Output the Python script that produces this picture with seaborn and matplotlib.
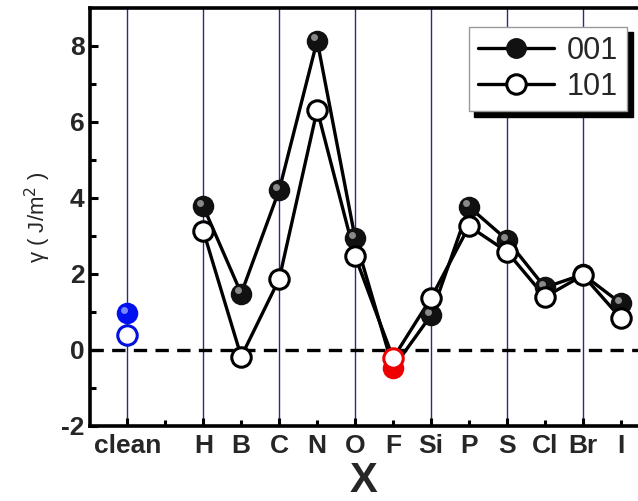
import numpy as np
import matplotlib
matplotlib.use("Agg")
import matplotlib.pyplot as plt
import matplotlib.transforms as mtransforms
from matplotlib.lines import Line2D
import pandas as pd
import seaborn as sns

# adsorbates, x positions (clean sits apart on the left)
labels = ["clean", "H", "B", "C", "N", "O", "F", "Si", "P", "S", "Cl", "Br", "I"]
xpos = [0, 2, 3, 4, 5, 6, 7, 8, 9, 10, 11, 12, 13]

# surface energy gamma (J/m^2)
g001 = [0.96, 3.77, 1.48, 4.20, 8.13, 2.93, -0.48, 0.91, 3.76, 2.89, 1.64, 1.98, 1.22]
g101 = [0.39, 3.13, -0.18, 1.86, 6.31, 2.46, -0.22, 1.36, 3.25, 2.58, 1.39, 1.96, 0.83]

df = pd.DataFrame({"x": xpos, "label": labels, "001": g001, "101": g101})
ads = df[df.label != "clean"]
clean = df[df.label == "clean"]
fl = df[df.label == "F"]

sns.set_theme(style="ticks")
plt.rcParams['font.family'] = ['Liberation Sans', 'DejaVu Sans']
plt.rcParams['axes.unicode_minus'] = False

fig = plt.figure(figsize=(6.38, 5.01), dpi=100)
ax = fig.add_axes([0.141, 0.150, 0.859, 0.835])

ms = 14
lw = 2.4
# small offset for the shiny spot on the filled balls
hl = ax.transData + mtransforms.ScaledTranslation(-2.4 / 72, 2.4 / 72, fig.dpi_scale_trans)

# lines
sns.lineplot(data=ads, x="x", y="001", ax=ax, color="black", lw=lw, sort=False, zorder=3)
sns.lineplot(data=ads, x="x", y="101", ax=ax, color="black", lw=lw, sort=False, zorder=3)

def balls(d, col, face, shine, z):
    ax.plot(d.x, d[col], "o", ms=ms, mfc=face, mec=face, mew=1.5, ls="none", zorder=z)
    ax.plot(d.x, d[col], "o", ms=5, mfc=shine, mec="none", ls="none", zorder=z + 0.1,
            transform=hl, alpha=0.8)

def rings(d, col, edge, z):
    ax.plot(d.x, d[col], "o", ms=ms, mfc="white", mec=edge, mew=2.2, ls="none", zorder=z)

balls(ads[ads.label != "F"], "001", "#111111", "#a8a8a8", 4)
rings(ads[ads.label != "F"], "101", "black", 5)

# clean in blue, F in red
balls(clean, "001", "#0010ee", "#9aa6ff", 6)
rings(clean, "101", "#0010dd", 6)
balls(fl, "001", "#ee0000", "#ff8080", 6)
rings(fl, "101", "#ee0000", 7)

ax.axhline(0, color="black", lw=2.4, ls=(0, (4, 2.5)), zorder=2)

ax.set_xlim(-0.984, 13.45)
ax.set_ylim(-2, 9)

ax.set_xticks([x for x in xpos if x % 2 == 0])
ax.set_xticklabels([l for x, l in zip(xpos, labels) if x % 2 == 0])
ax.set_xticks([1] + [x for x in xpos if x % 2 == 1], minor=True)
ax.set_xticklabels([""] + [l for x, l in zip(xpos, labels) if x % 2 == 1], minor=True)
ax.set_yticks(np.arange(-2, 9, 2))
ax.set_yticks(np.arange(-1, 9, 2), minor=True)

for lab in ax.get_xticklabels(which="both") + ax.get_yticklabels():
    lab.set_fontweight("bold")
    lab.set_fontsize(19)

ax.tick_params(which="major", direction="in", length=6, width=2.2, pad=4, color="black")
ax.tick_params(which="minor", direction="in", length=4, width=2.2, pad=4, color="black")
ax.tick_params(axis="x", which="both", pad=6)
ax.tick_params(top=False, right=False)

ax.grid(axis="x", which="major", color="#2a2a80", lw=1.0, zorder=1)
ax.grid(axis="y", visible=False)

for s in ["left", "bottom", "top"]:
    ax.spines[s].set_linewidth(2.6)
    ax.spines[s].set_color("black")
ax.spines["right"].set_visible(False)

ax.set_xlabel("X", fontsize=30, fontweight="bold", labelpad=2)
ax.set_ylabel("γ ( J/m$^2$ )", fontsize=16, labelpad=6)

h1 = Line2D([], [], color="black", lw=lw, marker="o", ms=ms, mfc="#111111", mec="#111111")
h2 = Line2D([], [], color="black", lw=lw, marker="o", ms=ms, mfc="white", mec="black", mew=2.2)
leg = ax.legend([h1, h2], ["001", "101"], loc="upper right", bbox_to_anchor=(0.98, 0.954),
                borderaxespad=0, fontsize=22, frameon=True, fancybox=False, handlelength=2.5,
                handletextpad=0.4, borderpad=0.3, labelspacing=0.2,
                shadow={"ox": 4, "oy": -4, "color": "black", "alpha": 1})
leg.get_frame().set_edgecolor("#999999")
leg.get_frame().set_linewidth(1.0)
leg.get_frame().set_alpha(1)

fig.savefig("out.png", dpi=100)
